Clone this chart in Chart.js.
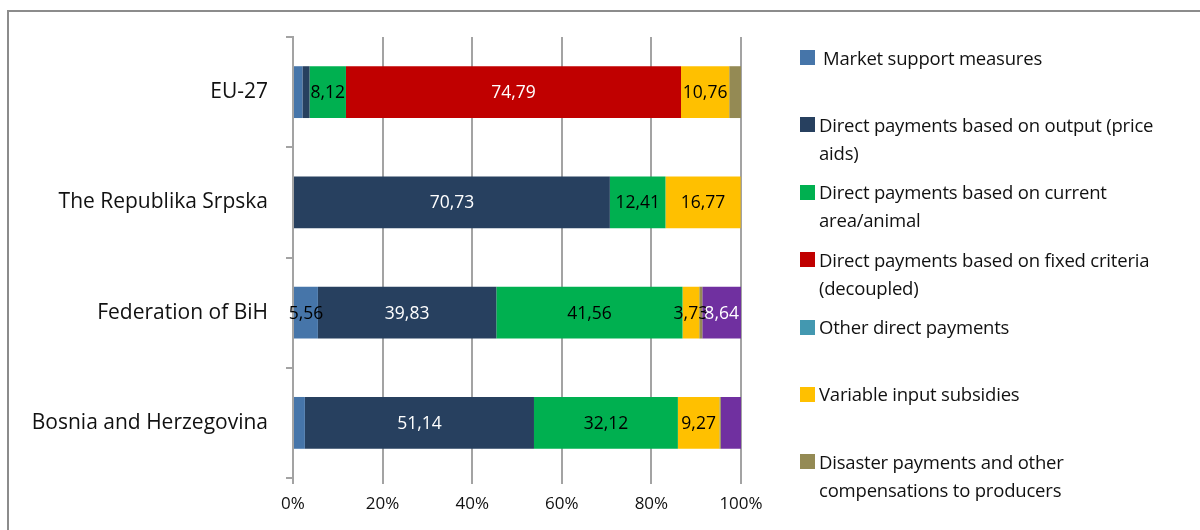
<!DOCTYPE html>
<html>
<head>
<meta charset="utf-8">
<script src="https://cdn.jsdelivr.net/npm/chart.js@4.4.1/dist/chart.umd.min.js"></script>
<style>
  html, body { margin: 0; padding: 0; background: #fff; }
  body { width: 1200px; height: 530px; position: relative; overflow: hidden; font-family: "Open Sans", Lato, sans-serif; }
  #frame { position: absolute; left: 7px; top: 10px; width: 1300px; height: 700px; border: 2px solid #8c8c8c; box-sizing: border-box; pointer-events: none; }
  #chart { position: absolute; left: 0; top: 0; }
  #legend { position: absolute; left: 800px; top: 43.5px; width: 392px; }
  .item { display: flex; align-items: flex-start; height: 67.4px; font-size: 18.5px; line-height: 28px; color: #111; letter-spacing: -0.2px; }
  .item:first-child .txt { padding-left: 4px; }
  .sw { flex: 0 0 15px; width: 15px; height: 15px; margin-top: 6.5px; margin-right: 4px; }
  .txt { flex: 1 1 auto; }
</style>
</head>
<body>
<div id="frame"></div>
<canvas id="chart" width="1200" height="530"></canvas>
<div id="legend"></div>
<script>
// ---- data ----
const categories = ['EU-27', 'The Republika Srpska', 'Federation of BiH', 'Bosnia and Herzegovina'];
const seriesNames = [
  'Market support measures',
  'Direct payments based on output (price aids)',
  'Direct payments based on current area/animal',
  'Direct payments based on fixed criteria (decoupled)',
  'Other direct payments',
  'Variable input subsidies',
  'Disaster payments and other compensations to producers',
  'Other payments'
];
const marketSupport   = [2.10, 0,     5.56,  2.65];
const outputPayments  = [1.60, 70.73, 39.83, 51.14];
const currentArea     = [8.12, 12.41, 41.56, 32.12];
const fixedCriteria   = [74.79, 0,    0,     0];
const otherDirect     = [0,    0,     0,     0];
const variableInput   = [10.76, 16.77, 3.73, 9.27];
const disaster        = [2.63, 0.09,  0.68,  0.32];
const otherPayments   = [0,    0,     8.64,  4.50];
const xTicks = [0, 20, 40, 60, 80, 100];
const legendShown = [true, true, true, true, true, true, true, false];
const unlabeled = [[7, 3]]; // [series, category] pairs without a value label

// ---- styles ----
const colors = ['#4675a9', '#27405f', '#00b050', '#c00000', '#4398b0', '#ffc000', '#948a54', '#7030a0'];
const labelColors = ['#000', '#fff', '#000', '#fff', '#000', '#000', '#000', '#fff'];
const FONT = '"Open Sans", Lato, sans-serif';

const seriesValues = [marketSupport, outputPayments, currentArea, fixedCriteria, otherDirect, variableInput, disaster, otherPayments];

const datasets = seriesValues.map((vals, i) => ({
  label: seriesNames[i],
  data: vals,
  backgroundColor: colors[i],
  borderWidth: 0,
  barPercentage: 0.47,
  categoryPercentage: 1
}));

const valueLabels = {
  id: 'valueLabels',
  afterDatasetsDraw(chart) {
    const ctx = chart.ctx;
    ctx.save();
    ctx.font = '17.5px ' + FONT;
    ctx.textAlign = 'center';
    ctx.textBaseline = 'middle';
    chart.data.datasets.forEach((ds, di) => {
      const meta = chart.getDatasetMeta(di);
      meta.data.forEach((el, ci) => {
        const v = ds.data[ci];
        if (v < 3.7) return;
        if (unlabeled.some(p => p[0] === di && p[1] === ci)) return;
        const cx = (el.x + el.base) / 2;
        ctx.fillStyle = labelColors[di];
        ctx.fillText(String(v.toFixed(2)).replace('.', ','), cx, el.y + 1);
      });
    });
    ctx.restore();
  }
};

new Chart(document.getElementById('chart'), {
  type: 'bar',
  data: { labels: categories, datasets },
  options: {
    indexAxis: 'y',
    responsive: false,
    animation: false,
    layout: { padding: { left: 0, top: 37, right: 459, bottom: 0 } },
    plugins: { legend: { display: false }, tooltip: { enabled: false } },
    scales: {
      x: {
        stacked: true,
        min: 0, max: 100,
        afterBuildTicks(scale) { scale.ticks = xTicks.map(v => ({ value: v })); },
        afterFit(scale) { scale.height = 52; },
        ticks: { callback: v => v + '%', font: { family: FONT, size: 17 }, color: '#111', padding: 10, maxRotation: 0 },
        grid: { color: '#a3a3a3', lineWidth: 2, tickLength: 6 },
        border: { display: false }
      },
      y: {
        stacked: true,
        afterFit(scale) { scale.width = 293; },
        ticks: { font: { family: FONT, size: 21 }, color: '#111', padding: 18 },
        grid: { offset: true, drawOnChartArea: false, color: '#a3a3a3', lineWidth: 2, tickLength: 7 },
        border: { display: true, color: '#a3a3a3', width: 2 }
      }
    }
  },
  plugins: [valueLabels]
});

// HTML legend built from the series
const legendEl = document.getElementById('legend');
seriesNames.forEach((name, i) => {
  if (!legendShown[i]) return;
  const item = document.createElement('div');
  item.className = 'item';
  const sw = document.createElement('span');
  sw.className = 'sw';
  sw.style.background = colors[i];
  const t = document.createElement('span');
  t.className = 'txt';
  t.textContent = name;
  item.appendChild(sw);
  item.appendChild(t);
  legendEl.appendChild(item);
});
</script>
</body>
</html>
